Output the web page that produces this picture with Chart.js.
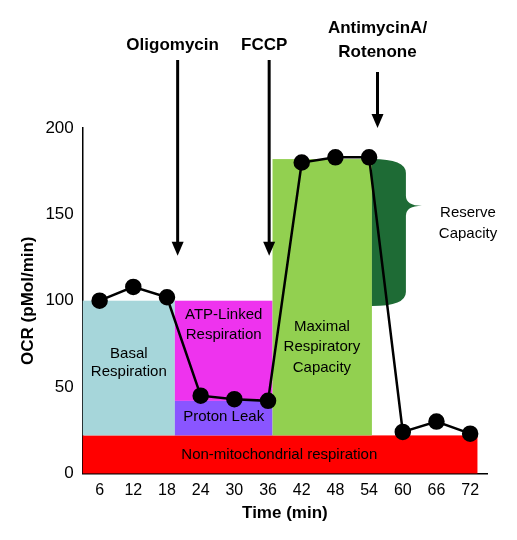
<!DOCTYPE html>
<html><head><script src="https://cdn.jsdelivr.net/npm/chart.js@4/dist/chart.umd.min.js"></script>
<style>body{margin:0;background:#fff}</style></head><body>
<div style="width:517px;height:540px"><canvas id="c"></canvas></div>
<script>
const times=[6,12,18,24,30,36,42,48,54,60,66,72];
const ocr=[100,108,102,45,43,42,180,183,183,24,30,23];
const xTicks=[6,12,18,24,30,36,42,48,54,60,66,72];
const yTicks=[0,50,100,150,200];
const regions=[
 [3,73.3,0,22,'#ff0000'],
 [3,19.4,22,100,'#a6d6da'],
 [19.4,36.8,42,100,'#ee33ee'],
 [19.4,36.8,22,42,'#8a55ff'],
 [36.8,54.5,22,182,'#92d050']
];
const regionLabels=[[11.2,[69,59],['Basal','Respiration']],[28.1,[92,80],['ATP-Linked','Respiration']],[28.1,[33],['Proton Leak']],[45.6,[85,73,61],['Maximal','Respiratory','Capacity']]];
const drugs=[[19.9,['Oligomycin'],126],[36.2,['FCCP'],126],[55.5,['AntimycinA/','Rotenone'],200]];
const over={id:'over',beforeDatasetsDraw(ch){
 const c=ch.ctx,x=ch.scales.x,y=ch.scales.y;c.save();
 c.textAlign='center';c.textBaseline='middle';
 regions.forEach(r=>{const a=x.getPixelForValue(r[0]),b=x.getPixelForValue(r[1]),t=y.getPixelForValue(r[3]),bt=y.getPixelForValue(r[2]);
  c.fillStyle=r[4];c.fillRect(a,t,b-a,bt-t);});
 const xl=x.getPixelForValue(54.5),xr=xl+34,tip=xl+50,yt=y.getPixelForValue(182),yb=y.getPixelForValue(97),ym=y.getPixelForValue(155);
 c.fillStyle='#1e6b35';c.beginPath();c.moveTo(xl,yt);c.quadraticCurveTo(xr,yt,xr,yt+14);c.lineTo(xr,ym-10);c.quadraticCurveTo(xr,ym,tip,ym);
 c.quadraticCurveTo(xr,ym,xr,ym+10);c.lineTo(xr,yb-14);c.quadraticCurveTo(xr,yb,xl,yb);c.closePath();c.fill();
 c.fillStyle='#000';c.font='15px Arial';
 c.fillText('Non-mitochondrial respiration',x.getPixelForValue(38),y.getPixelForValue(11));
 regionLabels.forEach(l=>{l[2].forEach((s,i)=>{c.fillText(s,x.getPixelForValue(l[0]),y.getPixelForValue(l[1][i]));});});
 c.fillText('Reserve',468,213);c.fillText('Capacity',468,234);
 c.restore();},
 afterDatasetsDraw(ch){const c=ch.ctx,x=ch.scales.x,y=ch.scales.y;c.save();
 c.font='bold 17px Arial';c.textAlign='center';c.textBaseline='middle';c.fillStyle='#000';c.strokeStyle='#000';c.lineWidth=3;
 drugs.forEach(d=>{const px=x.getPixelForValue(d[0]);const end=y.getPixelForValue(d[2]);
  d[1].forEach((s,i)=>c.fillText(s,px+(d[1].length>1?0:-5),d[1].length>1?28+i*24:45));
  const st=d[1].length>1?72:60;c.beginPath();c.moveTo(px,st);c.lineTo(px,end-12);c.stroke();
  c.beginPath();c.moveTo(px-6,end-14);c.lineTo(px+6,end-14);c.lineTo(px,end);c.closePath();c.fill();});
 c.restore();}};
new Chart(document.getElementById('c'),{type:'scatter',
 data:{datasets:[{data:times.map((t,i)=>({x:t,y:ocr[i]})),showLine:true,borderColor:'#000',borderWidth:2.5,backgroundColor:'#000',pointRadius:7,pointHoverRadius:7}]},
 options:{animation:false,responsive:true,maintainAspectRatio:false,
  layout:{padding:{top:128,right:30,left:14,bottom:16}},
  plugins:{legend:{display:false},tooltip:{enabled:false}},
  scales:{x:{type:'linear',min:3,max:75,afterBuildTicks:a=>{a.ticks=xTicks.map(v=>({value:v}))},
     grid:{display:false,tickLength:5,color:'#000'},border:{color:'#000',width:1.5},
     ticks:{color:'#000',font:{size:16,family:'Arial'}},title:{display:true,text:'Time (min)',color:'#000',font:{size:17,weight:'bold',family:'Arial'},padding:0}},
   y:{min:0,max:200,afterBuildTicks:a=>{a.ticks=yTicks.map(v=>({value:v}))},
     grid:{display:false,tickLength:6,color:'#000'},border:{color:'#000',width:1.5},
     ticks:{color:'#000',font:{size:17,family:'Arial'}},title:{display:true,text:'OCR (pMol/min)',color:'#000',font:{size:17,weight:'bold',family:'Arial'}}}}},
 plugins:[over]});
</script></body></html>
